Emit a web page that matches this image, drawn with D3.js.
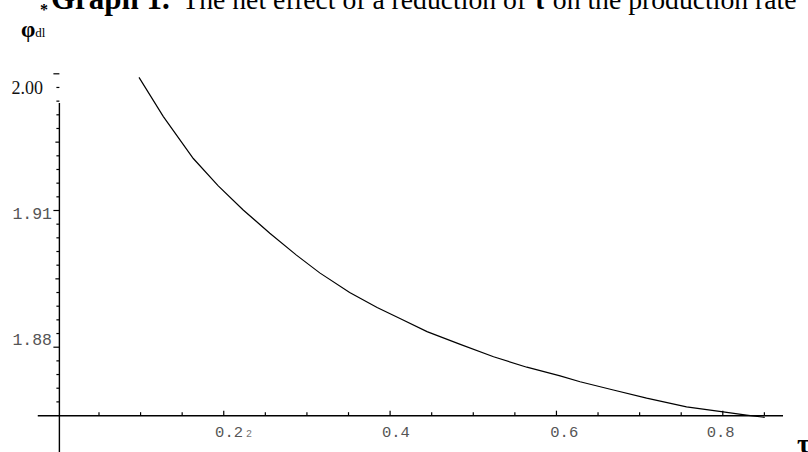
<!DOCTYPE html>
<html>
<head>
<meta charset="utf-8">
<script src="https://cdn.jsdelivr.net/npm/d3@7"></script>
<style>
  body { margin: 0; background: #fff; }
  svg { display: block; }
</style>
</head>
<body>
<svg width="808" height="452"></svg>
<script>
// curve
const tau = [0.0987, 0.128, 0.164, 0.194, 0.224, 0.256, 0.288, 0.316, 0.352, 0.385, 0.4125,
    0.445, 0.485, 0.525, 0.565, 0.605, 0.629, 0.669, 0.709, 0.757, 0.801, 0.829, 0.851];
const phi = [1.9391, 1.9305, 1.9213, 1.9153, 1.9100, 1.9049, 1.9001, 1.8962, 1.8919, 1.8886, 1.8862,
    1.8833, 1.8805, 1.8778, 1.8755, 1.8736, 1.8723, 1.8705, 1.8687, 1.8668, 1.8657, 1.8650, 1.8645];

const xMinorTicks = [0.05, 0.1, 0.15, 0.25, 0.3, 0.35, 0.45, 0.5, 0.55, 0.65, 0.7, 0.75, 0.85];
const xMajorTicks = [0.2, 0.4, 0.6, 0.8];
const xLabels = ["0.2", "0.4", "0.6", "0.8"];
const xLabelPos = [0.207, 0.4075, 0.61, 0.798];

const yMinorTicks = [1.937, 1.934, 1.931, 1.928, 1.922, 1.919, 1.916, 1.913,
    1.907, 1.904, 1.901, 1.898, 1.892, 1.889, 1.886, 1.883,
    1.877, 1.874, 1.871, 1.868];
const yMidTicks = [1.925, 1.895];
const yMajorTicks = [1.94, 1.91, 1.88];
const yLabels = ["2.00", "1.91", "1.88"];
const yLabelPos = [1.9368, 1.9093, 1.8817];

const svg = d3.select('svg');

const x = d3.scaleLinear().domain([0, 0.8]).range([56.9, 722.3]);
const y = d3.scaleLinear().domain([1.88, 1.91]).range([346.7, 210]);

const xCross = 0.003;     // where the vertical axis sits
const yCross = 1.86486;   // where the horizontal axis sits

// title, cut off at the top and right edges
const title = svg.append('text')
    .attr('x', 51).attr('y', 9)
    .attr('font-family', '"Liberation Serif", "Times New Roman", serif');
title.append('tspan').attr('font-size', 31).attr('font-weight', 'bold').text('Graph 1.');
title.append('tspan').attr('font-size', 27.7).attr('dx', 6).text(' The net effect of a reduction of ');
title.append('tspan').attr('font-size', 27.7).attr('font-weight', 'bold').text('τ');
title.append('tspan').attr('font-size', 27.7).text(' on the production rate');

// axis titles
const yt = svg.append('text')
    .attr('x', 21).attr('y', 37)
    .attr('font-family', '"Liberation Serif", serif');
yt.append('tspan').attr('font-size', 23).attr('font-weight', 'bold').text('φ');
yt.append('tspan').attr('font-size', 13).text('dl');
svg.append('text')
    .attr('x', 40).attr('y', 15)
    .attr('font-family', '"Liberation Serif", serif')
    .attr('font-size', 16).attr('font-weight', 'bold')
    .text('*');

svg.append('text')
    .attr('x', 797).attr('y', 453)
    .attr('font-family', '"Liberation Serif", serif')
    .attr('font-size', 28).attr('font-weight', 'bold')
    .text('τ');

// axis lines
svg.append('line')
    .attr('x1', x(-0.023)).attr('x2', x(0.873))
    .attr('y1', y(yCross)).attr('y2', y(yCross))
    .attr('stroke', '#000').attr('stroke-width', 1.4);
svg.append('line')
    .attr('x1', x(xCross)).attr('x2', x(xCross))
    .attr('y1', y(1.9335)).attr('y2', 460)
    .attr('stroke', '#000').attr('stroke-width', 1.4);

// x ticks (pointing up)
function xTicks(values, len) {
    const g = svg.append('g')
        .attr('transform', `translate(0, ${y(yCross)})`)
        .call(d3.axisBottom(x).tickValues(values).tickSizeInner(-len).tickSizeOuter(0).tickFormat(''));
    g.select('.domain').remove();
    g.selectAll('line').attr('stroke', '#000').attr('stroke-width', 1.2);
}
xTicks(xMinorTicks, 3.5);
xTicks(xMajorTicks, 5);

// y ticks (pointing left)
function yTicks(values, len) {
    const g = svg.append('g')
        .attr('transform', `translate(${x(xCross)}, 0)`)
        .call(d3.axisLeft(y).tickValues(values).tickSizeInner(len).tickSizeOuter(0).tickFormat(''));
    g.select('.domain').remove();
    g.selectAll('line').attr('stroke', '#000').attr('stroke-width', 1.2);
}
yTicks(yMinorTicks, 3);
yTicks(yMidTicks, 4);
yTicks(yMajorTicks, 6);

// tick labels
svg.selectAll('.xlab').data(xLabels).enter()
    .append('text')
    .attr('class', 'xlab')
    .attr('x', (d, i) => x(xLabelPos[i]))
    .attr('y', 437)
    .attr('text-anchor', 'middle')
    .attr('font-family', '"Liberation Mono", monospace')
    .attr('font-size', 15.5)
    .attr('fill', '#555')
    .text(d => d);
svg.append('text')
    .attr('x', x(xLabelPos[0]) + 17).attr('y', 437)
    .attr('font-family', '"Liberation Mono", monospace')
    .attr('font-size', 10)
    .attr('fill', '#777')
    .text('2');

svg.selectAll('.ylab').data(yLabels).enter()
    .append('text')
    .attr('class', 'ylab')
    .attr('x', (d, i) => i === 0 ? 43 : 52)
    .attr('y', (d, i) => y(yLabelPos[i]))
    .attr('dy', '0.35em')
    .attr('text-anchor', 'end')
    .attr('font-family', (d, i) => i === 0 ? '"Liberation Serif", serif' : '"Liberation Mono", monospace')
    .attr('font-size', (d, i) => i === 0 ? 18 : 16.5)
    .attr('fill', (d, i) => i === 0 ? '#111' : '#555')
    .text(d => d);

// the curve
const line = d3.line()
    .x(d => x(d[0]))
    .y(d => y(d[1]));

svg.append('path')
    .datum(d3.zip(tau, phi))
    .attr('d', line)
    .attr('fill', 'none')
    .attr('stroke', '#000')
    .attr('stroke-width', 1.2);
</script>
</body>
</html>
